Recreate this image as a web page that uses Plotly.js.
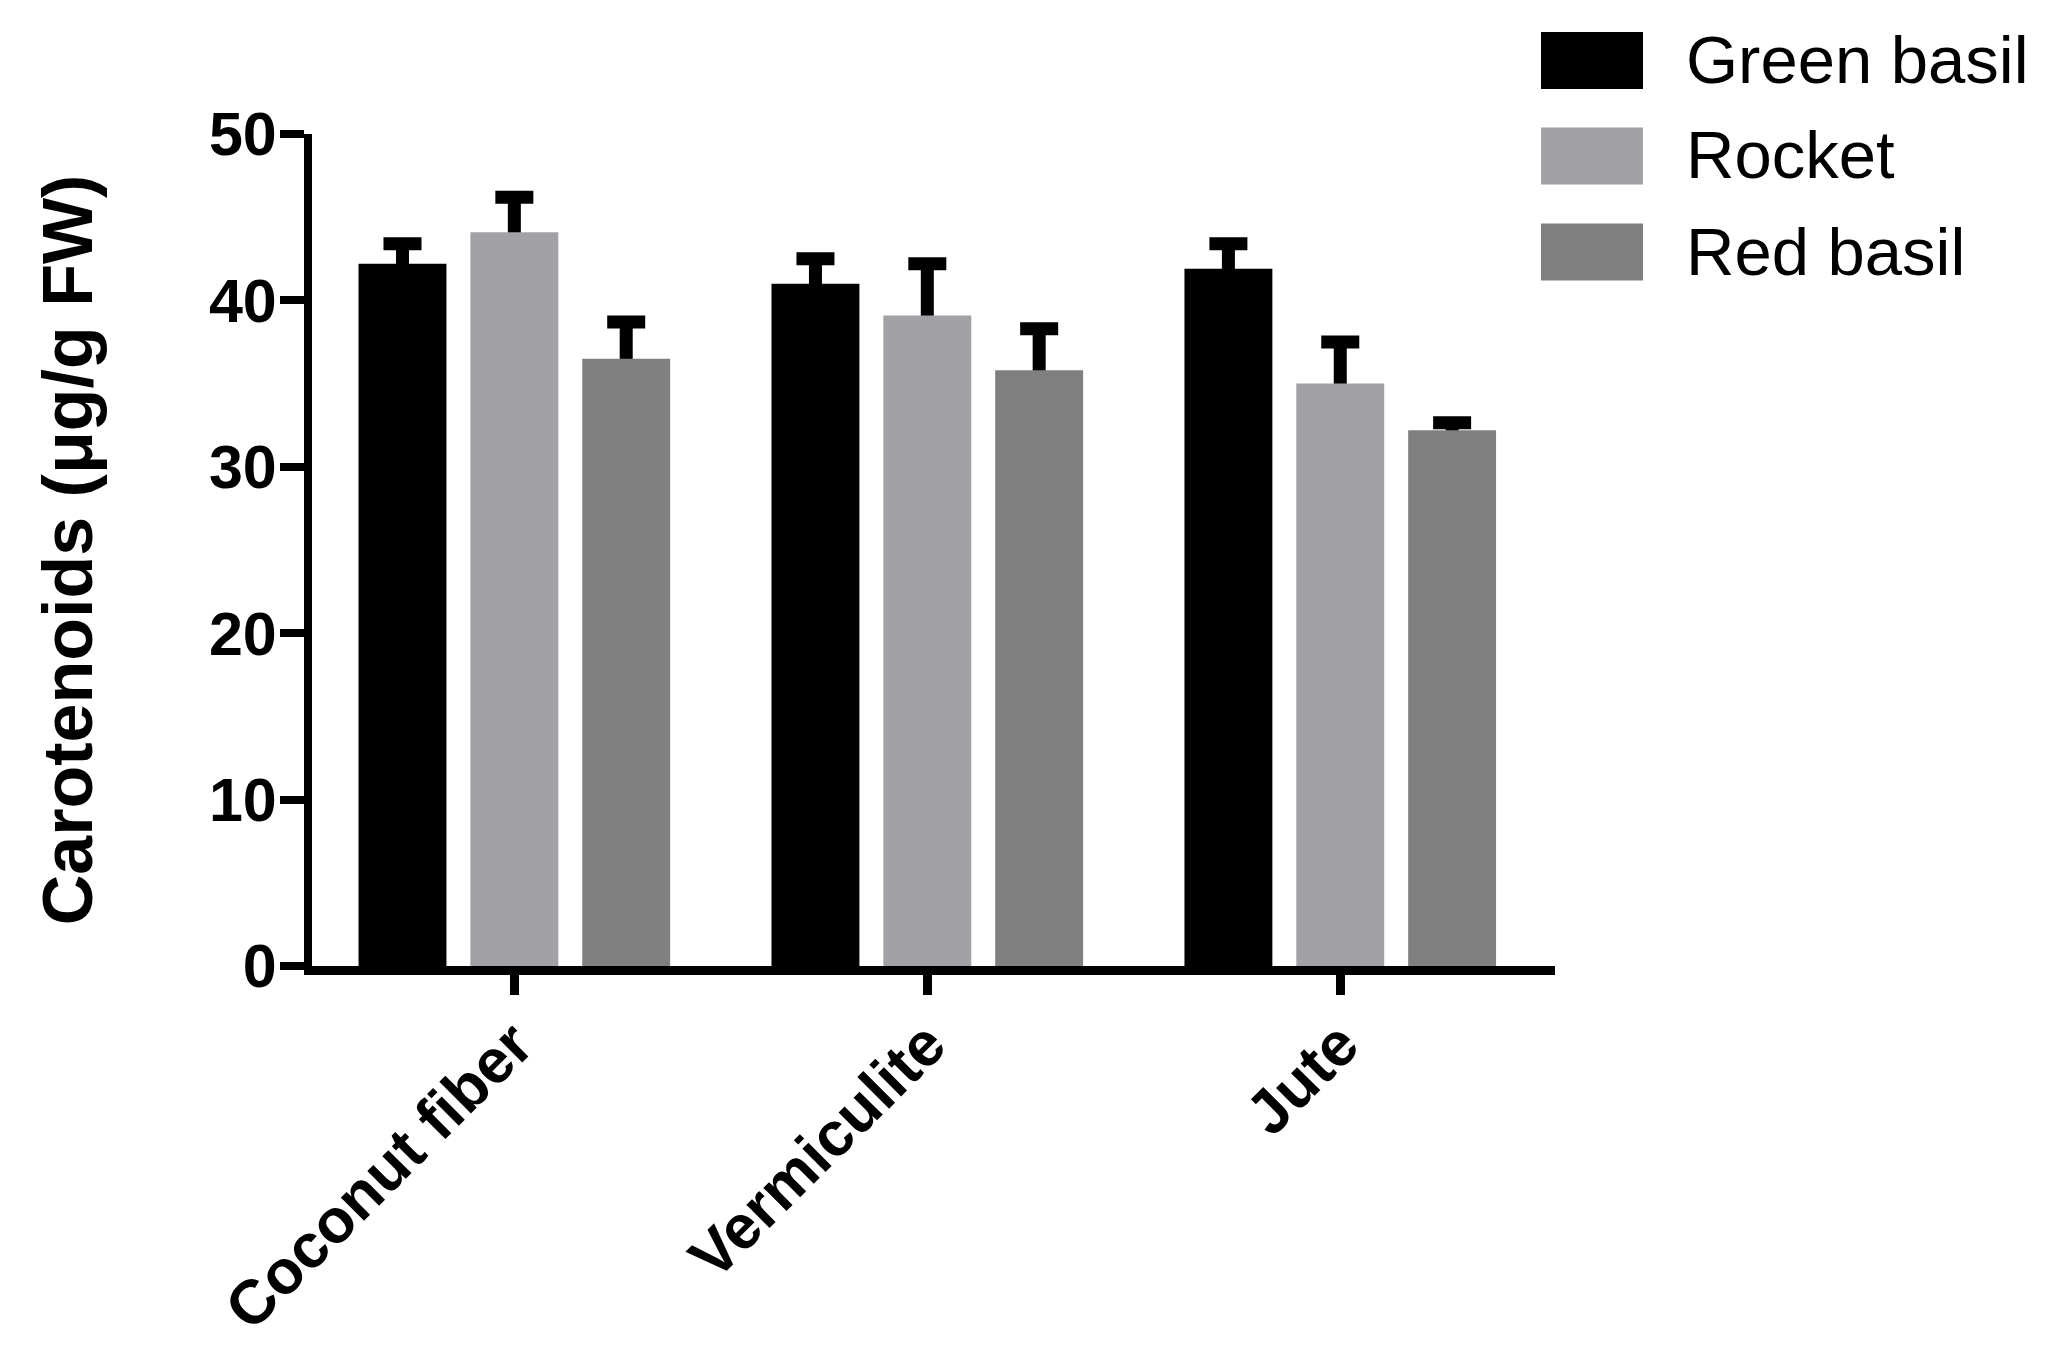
<!DOCTYPE html>
<html>
<head>
<meta charset="utf-8">
<script src="https://cdn.plot.ly/plotly-3.0.1.min.js"></script>
<style>html,body{margin:0;padding:0;background:#fff;}#chart{width:2051px;height:1352px;}</style>
</head>
<body>
<div id="chart"></div>
<script>
// ---- data ----
const categories = ['Coconut fiber', 'Vermiculite', 'Jute'];
const seriesNames = ['Green basil', 'Rocket', 'Red basil'];
const seriesColors = ['#000000', '#a2a1a6', '#808080'];
const greenBasil = [42.2, 41.0, 41.9];
const greenBasilErr = [1.2, 1.5, 1.5];
const rocket = [44.1, 39.1, 35.0];
const rocketErr = [2.1, 3.1, 2.5];
const redBasil = [36.5, 35.8, 32.2];
const redBasilErr = [2.2, 2.5, 0.45];
const yTickVals = [0, 10, 20, 30, 40, 50];
const yTitle = 'Carotenoids (μg/g FW)';

const seriesValues = [greenBasil, rocket, redBasil];
const seriesErrors = [greenBasilErr, rocketErr, redBasilErr];

// ---- layout geometry ----
const W = 2051, H = 1352;
const M = {l: 312, r: 496, t: 134, b: 386};
const plotW = W - M.l - M.r, plotH = H - M.t - M.b;
const px2x = p => (p - M.l) / plotW;
const py2y = p => (H - M.b - p) / plotH;
const FONT = '"Liberation Sans", Arial, Helvetica, sans-serif';

const traces = [];
// error bars drawn underneath the bars (only the upper part shows)
seriesValues.forEach((vals, i) => {
  traces.push({
    type: 'bar', x: categories, y: vals, offsetgroup: 'g' + i,
    marker: {color: 'rgba(0,0,0,0)', line: {width: 0}},
    error_y: {type: 'data', symmetric: false, array: seriesErrors[i], arrayminus: vals,
              color: '#000000', thickness: 13, width: 19},
    showlegend: false, hoverinfo: 'skip'
  });
});
seriesValues.forEach((vals, i) => {
  traces.push({
    type: 'bar', x: categories, y: vals, offsetgroup: 'g' + i, name: seriesNames[i],
    marker: {color: seriesColors[i], line: {width: 0}},
    showlegend: false
  });
});

// custom legend (large swatches like the original)
const shapes = [], annotations = [];
const rowCenters = [60.5, 156, 252];
seriesNames.forEach((name, i) => {
  const c = rowCenters[i];
  shapes.push({type: 'rect', xref: 'paper', yref: 'paper',
    x0: px2x(1541), x1: px2x(1643), y0: py2y(c + 28.5), y1: py2y(c - 28.5),
    fillcolor: seriesColors[i], line: {width: 0}});
  annotations.push({xref: 'paper', yref: 'paper', x: px2x(1684), y: py2y(c - 1),
    xanchor: 'left', yanchor: 'middle', showarrow: false, text: name,
    font: {family: FONT, size: 67, color: '#000'}});
});

const layout = {
  width: W, height: H,
  margin: M,
  paper_bgcolor: '#ffffff', plot_bgcolor: '#ffffff',
  barmode: 'group', bargap: 0.1874, bargroupgap: 0.214,
  showlegend: false,
  font: {family: FONT, color: '#000'},
  xaxis: {
    type: 'category', range: [-0.49, 2.52],
    showline: true, linewidth: 9, linecolor: '#000',
    ticks: 'outside', ticklen: 20, tickwidth: 9, tickcolor: '#000',
    ticklabelstandoff: -12,
    tickangle: -45, tickfont: {family: FONT, size: 62, weight: 'bold', color: '#000'},
    showgrid: false, zeroline: false, fixedrange: true
  },
  yaxis: {
    range: [0, 50], tickmode: 'array', tickvals: yTickVals, ticktext: yTickVals.map(String),
    showline: true, linewidth: 8, linecolor: '#000',
    ticks: 'outside', ticklen: 24, tickwidth: 8, tickcolor: '#000',
    ticklabelstandoff: -9,
    tickfont: {family: FONT, size: 61, weight: 'bold', color: '#000'},
    showgrid: false, zeroline: false, fixedrange: true,
    title: {text: yTitle, font: {family: FONT, size: 70, weight: 'bold', color: '#000'}, standoff: 96}
  },
  shapes: shapes,
  annotations: annotations
};

Plotly.newPlot('chart', traces, layout, {staticPlot: true, displayModeBar: false});
</script>
</body>
</html>
